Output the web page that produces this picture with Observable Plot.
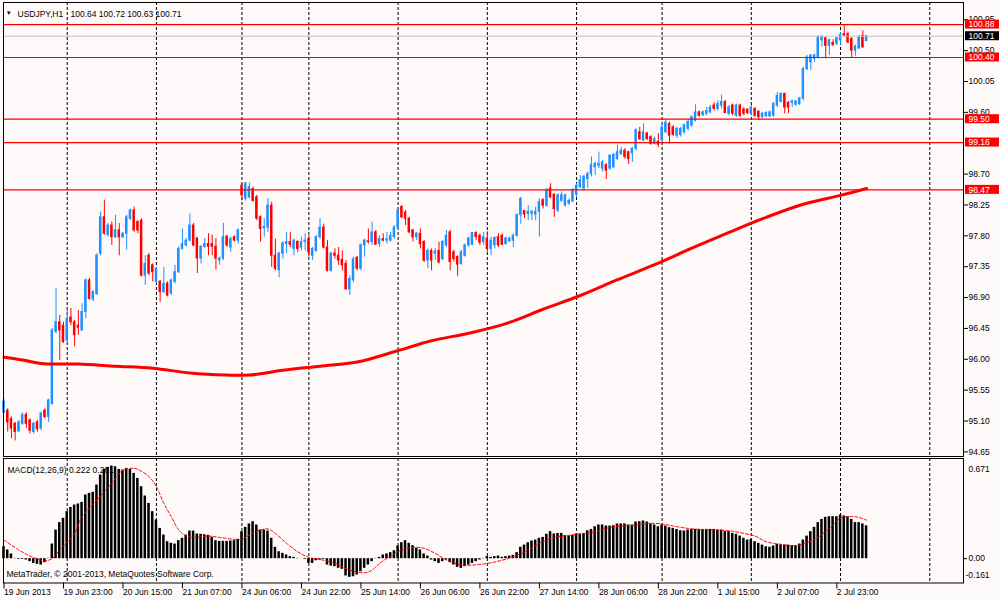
<!DOCTYPE html>
<html><head><meta charset="utf-8">
<script src="https://cdn.jsdelivr.net/npm/d3@7"></script>
<script src="https://cdn.jsdelivr.net/npm/@observablehq/plot@0.6"></script>
<style>
body{margin:0;background:#fffafa;}
#chart{position:relative;width:1000px;height:600px;background:#fffafa;overflow:hidden;}
#main,#macd{position:absolute;left:0;}
#main{top:0px}
#macd{top:457px}
svg{display:block}
</style></head><body><div id="chart"><div id="main"></div><div id="macd"></div></div>
<script>
const opens=[95.22,95.25,95.13,95.06,94.95,95.06,95.19,95.11,94.94,95.08,
94.99,95.25,95.16,95.35,96.40,96.54,96.49,96.27,96.61,96.54,
96.49,96.42,96.69,97.15,96.87,96.95,97.54,98.07,97.81,97.95,
97.78,97.88,97.78,97.83,98.05,98.17,98.00,98.02,97.22,97.51,
97.37,97.13,97.13,96.98,97.10,96.96,97.13,97.27,97.61,97.66,
97.73,97.95,97.76,97.47,97.64,97.68,97.68,97.64,97.44,97.47,
97.79,97.63,97.78,97.73,98.53,98.34,98.36,98.48,98.36,98.07,
97.91,97.92,98.24,97.51,97.30,97.54,97.68,97.71,97.61,97.71,
97.63,97.71,97.75,97.51,97.58,97.78,97.92,97.63,97.29,97.54,
97.51,97.45,97.39,97.02,97.15,97.48,97.32,97.66,97.72,97.71,
97.85,97.68,97.75,97.73,97.73,97.78,97.92,98.22,98.14,98.05,
97.88,97.78,97.83,97.71,97.44,97.58,97.54,97.58,97.46,97.66,
97.85,97.56,97.49,97.39,97.51,97.66,97.67,97.84,97.80,97.71,
97.76,97.61,97.66,97.78,97.80,97.68,97.72,97.73,97.80,98.10,
98.16,98.12,98.12,98.11,98.15,98.32,98.24,98.49,98.40,98.17,
98.31,98.24,98.27,98.30,98.40,98.51,98.49,98.63,98.70,98.80,
98.82,98.78,98.83,98.78,98.80,98.92,98.99,99.04,99.02,99.00,
99.07,99.31,99.19,99.29,99.24,99.14,99.17,99.19,99.31,99.43,
99.38,99.26,99.27,99.31,99.36,99.41,99.48,99.60,99.56,99.58,
99.60,99.70,99.65,99.70,99.75,99.58,99.70,99.55,99.70,99.64,
99.64,99.58,99.65,99.61,99.53,99.54,99.54,99.55,99.70,99.75,
99.87,99.74,99.74,99.71,99.72,99.80,100.23,100.33,100.38,100.40,
100.65,100.68,100.57,100.61,100.60,100.65,100.74,100.74,100.67,100.50,
100.53,100.71,100.64];
const highs=[95.42,95.28,95.16,95.08,95.11,95.22,95.22,95.13,95.08,95.11,
95.23,95.28,95.42,96.45,97.03,96.64,96.54,96.74,96.74,96.57,
96.71,96.81,97.17,97.18,97.00,97.54,98.15,98.32,97.98,98.00,
98.10,97.98,97.85,98.10,98.19,98.22,98.02,98.05,97.51,97.54,
97.39,97.34,97.15,97.34,97.13,97.17,97.37,97.64,97.90,97.76,
98.12,97.98,97.78,97.66,97.76,97.83,97.81,97.76,97.49,97.98,
97.80,97.78,97.80,97.90,98.56,98.58,98.57,98.51,98.39,98.09,
98.05,98.34,98.29,97.75,97.56,97.71,97.85,97.85,97.75,97.73,
97.78,97.83,97.80,97.63,97.80,98.05,97.97,97.73,97.56,97.61,
97.63,97.58,97.44,97.22,97.49,97.50,97.68,97.75,97.90,98.00,
97.88,97.80,97.83,97.85,97.85,97.95,98.18,98.24,98.17,98.07,
97.89,97.85,97.90,97.73,97.61,97.61,97.61,97.71,97.73,97.88,
97.88,97.59,97.51,97.59,97.68,97.78,97.85,97.86,97.83,97.85,
97.86,97.78,97.78,97.83,97.83,97.78,97.78,97.83,98.12,98.36,
98.17,98.24,98.17,98.22,98.34,98.34,98.49,98.56,98.41,98.41,
98.44,98.41,98.34,98.49,98.56,98.68,98.68,98.73,98.95,98.87,
99.02,98.90,98.85,98.98,99.00,99.12,99.09,99.07,99.03,99.09,
99.36,99.38,99.43,99.31,99.26,99.24,99.29,99.43,99.50,99.46,
99.41,99.38,99.38,99.43,99.50,99.55,99.71,99.62,99.62,99.67,
99.70,99.74,99.77,99.85,99.77,99.70,99.72,99.72,99.72,99.67,
99.65,99.70,99.67,99.62,99.60,99.61,99.62,99.75,99.89,99.88,
99.88,99.76,99.78,99.77,99.82,100.26,100.43,100.44,100.45,100.72,
100.72,100.69,100.67,100.66,100.69,100.76,100.86,100.77,100.69,100.58,
100.72,100.79,100.72];
const lows=[95.21,94.94,94.84,94.81,94.93,95.04,94.99,94.91,94.91,94.94,
94.96,95.13,95.08,95.33,96.37,95.98,96.23,96.25,96.49,96.18,
96.35,96.41,96.59,96.86,96.84,96.93,97.51,97.81,97.78,97.66,
97.76,97.51,97.76,97.59,98.02,97.85,97.83,97.20,97.08,97.22,
97.13,97.10,96.83,96.96,96.91,96.93,97.10,97.25,97.59,97.64,
97.71,97.64,97.25,97.39,97.61,97.51,97.51,97.30,97.37,97.44,
97.63,97.56,97.71,97.68,98.31,98.31,98.34,98.29,98.02,97.71,
97.78,97.85,97.34,97.29,97.19,97.46,97.54,97.63,97.51,97.56,
97.58,97.58,97.49,97.44,97.56,97.75,97.61,97.27,97.27,97.46,
97.37,97.29,97.01,96.93,97.12,97.29,97.29,97.49,97.68,97.66,
97.66,97.63,97.71,97.68,97.71,97.75,97.90,98.05,97.95,97.83,
97.71,97.73,97.61,97.41,97.32,97.29,97.44,97.39,97.44,97.63,
97.29,97.42,97.21,97.37,97.49,97.63,97.66,97.73,97.66,97.66,
97.56,97.51,97.61,97.63,97.66,97.66,97.70,97.63,97.78,97.97,
98.05,98.02,98.02,98.02,97.78,98.19,98.22,98.34,98.07,98.14,
98.29,98.22,98.24,98.29,98.36,98.49,98.45,98.49,98.66,98.68,
98.78,98.73,98.62,98.75,98.78,98.90,98.97,98.92,98.84,98.87,
99.04,99.19,99.17,99.19,99.12,99.12,99.09,99.14,99.29,99.14,
99.25,99.22,99.24,99.28,99.33,99.38,99.46,99.53,99.54,99.55,
99.58,99.62,99.62,99.65,99.58,99.55,99.55,99.53,99.53,99.55,
99.57,99.55,99.53,99.48,99.51,99.53,99.53,99.53,99.67,99.74,
99.58,99.58,99.67,99.69,99.70,99.77,100.21,100.21,100.33,100.38,
100.55,100.38,100.43,100.56,100.57,100.58,100.71,100.60,100.40,100.42,
100.52,100.53,100.63];
const closes=[95.38,95.08,94.99,94.94,95.08,95.19,95.06,94.96,95.06,94.98,
95.21,95.16,95.40,96.42,96.54,96.42,96.25,96.59,96.54,96.35,
96.46,96.69,97.15,96.88,96.98,97.51,98.07,97.83,97.95,97.78,
97.88,97.78,97.83,98.07,98.17,97.88,97.88,97.22,97.39,97.25,
97.27,97.32,96.98,97.10,96.93,97.15,97.27,97.61,97.68,97.73,
97.95,97.66,97.47,97.64,97.68,97.64,97.64,97.47,97.47,97.78,
97.66,97.75,97.73,97.88,98.39,98.56,98.51,98.31,98.05,97.90,
97.93,98.24,97.51,97.32,97.54,97.69,97.71,97.67,97.73,97.61,
97.71,97.73,97.56,97.61,97.78,97.92,97.63,97.29,97.54,97.51,
97.44,97.37,97.02,97.17,97.46,97.32,97.66,97.73,97.71,97.85,
97.67,97.75,97.73,97.75,97.80,97.92,98.17,98.07,98.05,97.85,
97.78,97.83,97.68,97.44,97.58,97.44,97.57,97.41,97.71,97.80,
97.42,97.46,97.38,97.56,97.66,97.76,97.84,97.78,97.70,97.78,
97.61,97.73,97.77,97.66,97.67,97.76,97.76,97.80,98.10,98.34,
98.11,98.15,98.15,98.15,98.29,98.24,98.46,98.36,98.19,98.39,
98.39,98.39,98.31,98.46,98.53,98.61,98.66,98.70,98.83,98.85,
98.85,98.87,98.75,98.97,98.98,99.02,99.04,98.95,98.92,99.07,
99.34,99.21,99.31,99.21,99.14,99.21,99.13,99.38,99.45,99.26,
99.27,99.36,99.36,99.41,99.46,99.53,99.60,99.55,99.60,99.62,
99.67,99.65,99.72,99.75,99.59,99.67,99.58,99.70,99.55,99.58,
99.59,99.67,99.55,99.53,99.58,99.59,99.60,99.72,99.84,99.87,
99.67,99.67,99.76,99.76,99.80,100.23,100.40,100.43,100.43,100.69,
100.69,100.57,100.65,100.58,100.68,100.73,100.72,100.62,100.50,100.56,
100.69,100.55,100.71];

const maIdx=[0,5,10,15,20,30,40,50,60,66,75,85,95,105,115,125,135,145,155,165,175,185,195,205,215,225,232];
const maVal=[96.03,95.99,95.94,95.93,95.93,95.90,95.87,95.80,95.77,95.77,95.84,95.90,95.96,96.11,96.27,96.38,96.52,96.73,96.93,97.16,97.38,97.62,97.85,98.07,98.26,98.39,98.49];

const macdHist=[0.081,0.059,0.032,0.002,-0.005,-0.005,-0.009,-0.020,-0.032,-0.038,
-0.043,-0.027,0.002,0.099,0.194,0.244,0.273,0.318,0.347,0.363,
0.370,0.381,0.431,0.442,0.449,0.498,0.566,0.604,0.618,0.627,
0.622,0.604,0.600,0.611,0.604,0.577,0.543,0.487,0.424,0.374,
0.318,0.262,0.205,0.160,0.115,0.104,0.099,0.122,0.138,0.160,
0.187,0.187,0.167,0.165,0.162,0.158,0.144,0.122,0.117,0.117,
0.117,0.120,0.122,0.131,0.183,0.212,0.235,0.250,0.228,0.194,
0.194,0.187,0.138,0.077,0.047,0.036,0.025,0.014,0.009,0.002,
0.000,-0.005,-0.032,-0.032,-0.014,-0.009,-0.005,-0.043,-0.050,-0.054,
-0.065,-0.072,-0.117,-0.126,-0.122,-0.110,-0.088,-0.065,-0.043,-0.020,
0.002,0.009,0.025,0.032,0.041,0.054,0.086,0.108,0.122,0.104,
0.088,0.070,0.059,0.032,0.018,-0.009,-0.020,-0.032,-0.020,-0.009,
-0.027,-0.043,-0.059,-0.065,-0.054,-0.043,-0.032,-0.020,-0.009,0.002,
0.014,0.009,0.014,0.018,0.009,0.014,0.018,0.023,0.041,0.077,
0.092,0.108,0.120,0.126,0.138,0.144,0.165,0.183,0.167,0.171,
0.171,0.156,0.153,0.158,0.167,0.167,0.171,0.189,0.198,0.216,
0.228,0.228,0.221,0.221,0.223,0.235,0.235,0.235,0.228,0.228,
0.248,0.250,0.255,0.248,0.235,0.228,0.216,0.228,0.221,0.210,
0.205,0.198,0.189,0.187,0.194,0.198,0.198,0.198,0.198,0.198,
0.198,0.198,0.194,0.194,0.183,0.183,0.171,0.165,0.153,0.138,
0.126,0.131,0.115,0.104,0.092,0.081,0.077,0.086,0.097,0.092,
0.092,0.092,0.088,0.088,0.099,0.126,0.153,0.183,0.212,0.244,
0.266,0.280,0.284,0.284,0.284,0.295,0.289,0.284,0.266,0.244,
0.244,0.235,0.222];

const sigIdx=[0,4,7,11,13,15,19,21,25,29,32,35,36,39,41,43,45,47,49,51,55,58,62,64,66,69,71,73,76,79,82,85,89,93,97,99,101,104,107,110,113,116,119,123,126,130,134,137,141,144,148,152,155,159,162,166,170,173,177,180,184,187,191,195,198,202,205,209,213,218,222,225,229,232];
const sigVal=[0.126,0.059,0.018,-0.014,0.002,0.059,0.171,0.284,0.397,0.510,0.600,0.611,0.604,0.555,0.487,0.374,0.284,0.194,0.153,0.144,0.153,0.144,0.131,0.131,0.160,0.194,0.201,0.171,0.104,0.047,0.009,-0.005,-0.032,-0.077,-0.095,-0.077,-0.032,0.018,0.059,0.077,0.070,0.036,-0.009,-0.043,-0.043,-0.032,-0.010,0.014,0.059,0.104,0.144,0.158,0.167,0.183,0.205,0.221,0.228,0.239,0.235,0.221,0.205,0.198,0.194,0.189,0.176,0.153,0.115,0.097,0.088,0.131,0.205,0.273,0.284,0.261];

const levels=[100.88,100.40,99.50,99.16,98.47];
const bidPrice=100.71;
const priceTicks=[94.65,95.10,95.55,96.00,96.45,96.90,97.35,97.80,98.25,98.70,99.60,100.05,100.50,100.95];
const gridIdx=[17,41,64,82,106,130,154,177,201,225,249];
const timeIdx=[0,16,32,48,64,80,96,112,128,144,160,176,192,208,224];
const timeLabels=["19 Jun 2013","19 Jun 23:00","20 Jun 15:00","21 Jun 07:00","24 Jun 06:00","24 Jun 22:00","25 Jun 14:00","26 Jun 06:00","26 Jun 22:00","27 Jun 14:00","28 Jun 06:00","28 Jun 22:00","1 Jul 15:00","2 Jul 07:00","2 Jul 23:00"];
const headerSymbol="USDJPY,H1";
const headerValues="100.64 100.72 100.63 100.71";
const macdTitle="MACD(12,26,9) 0.222 0.261";
const copyright="MetaTrader, \u00a9 2001-2013, MetaQuotes Software Corp.";
const macdTop="0.671", macdZero="0.00", macdBottom="-0.161";

const BLUE="#1e90ff", RED="#ff0000";
const FONT="'Liberation Sans', Arial, sans-serif";
const xDom=[-0.134, 258.07];
const pxPerBar=3.718, pxPerPrice=68.6;
const xR=xDom[1];

const bars=closes.map((c,i)=>({i,o:opens[i],h:highs[i],l:lows[i],c}));
const ma=maIdx.map((i,k)=>({i,v:maVal[k]}));
const hist=macdHist.map((v,i)=>({i,v}));
const sig=sigIdx.map((i,k)=>({i,v:sigVal[k]}));
const boxes=[...levels.map(p=>({p,fill:RED})),{p:bidPrice,fill:"#000"}];

const style={background:"transparent",fontFamily:FONT,fontSize:"8.5px",color:"#000",overflow:"visible"};

const main=Plot.plot({
  width:1000,height:457,marginLeft:3,marginRight:37,marginTop:2,marginBottom:1,
  x:{domain:xDom,axis:null,label:null},
  y:{domain:[94.583,101.2016],axis:null,label:null},
  color:{type:"identity"},
  style,
  marks:[
    Plot.ruleX(gridIdx,{stroke:"#000",strokeDasharray:"3,2"}),
    Plot.ruleX(bars,{x:"i",y1:"l",y2:"h",stroke:d=>d.c>=d.o?BLUE:RED,strokeWidth:1}),
    Plot.rect(bars,{x1:d=>d.i-0.33,x2:d=>d.i+0.33,y1:"o",y2:"c",fill:d=>d.c>=d.o?BLUE:RED,insetTop:-0.5,insetBottom:-0.5}),
    Plot.ruleY([bidPrice],{stroke:"#c0c0c0"}),
    Plot.ruleY(levels,{stroke:RED,strokeWidth:1.2}),
    Plot.line(ma,{x:"i",y:"v",stroke:RED,strokeWidth:3,curve:"catmull-rom"}),
    Plot.frame({stroke:"#000"}),
    Plot.axisY(priceTicks,{anchor:"right",label:null,tickFormat:d=>d.toFixed(2),tickSize:4,tickPadding:1,fill:"#000"}),
    Plot.rect(boxes,{x1:()=>xR+2/pxPerBar,x2:()=>xR+36/pxPerBar,y1:d=>d.p-4.5/pxPerPrice,y2:d=>d.p+4.5/pxPerPrice,fill:"fill"}),
    Plot.text(boxes,{x:()=>xR,y:"p",dx:5,textAnchor:"start",fill:"#fff",text:d=>d.p.toFixed(2)}),
    Plot.text(["\u25bc"],{frameAnchor:"top-left",dx:5.3,dy:8,fontSize:6,textAnchor:"middle",fill:"#000"}),
    Plot.text([headerSymbol],{frameAnchor:"top-left",dx:14,dy:8,textAnchor:"start",fill:"#000"}),
    Plot.text([headerValues],{frameAnchor:"top-left",dx:67,dy:8,textAnchor:"start",fill:"#000"})
  ]
});
document.getElementById("main").appendChild(main);

const macd=Plot.plot({
  width:1000,height:143,marginLeft:3,marginRight:37,marginTop:1,marginBottom:17.5,
  x:{domain:xDom,axis:null,label:null},
  y:{domain:[-0.1644,0.6778],axis:null,label:null},
  style,
  marks:[
    Plot.ruleX(gridIdx,{stroke:"#000",strokeDasharray:"3,2"}),
    Plot.rect(hist,{x1:d=>d.i-0.34,x2:d=>d.i+0.34,y1:0,y2:"v",fill:"#000"}),
    Plot.line(sig,{x:"i",y:"v",stroke:RED,strokeWidth:1,strokeDasharray:"3,2",curve:"catmull-rom"}),
    Plot.frame({stroke:"#000"}),
    Plot.axisX(timeIdx,{anchor:"bottom",label:null,tickFormat:d=>timeLabels[timeIdx.indexOf(d)],tickSize:6,tickPadding:0,textAnchor:"start",fill:"#000"}),
    Plot.axisY([0],{anchor:"right",label:null,tickSize:3,tickFormat:()=>""}),
    Plot.text([macdTop],{frameAnchor:"top-right",dx:5,dy:7,textAnchor:"start",fill:"#000"}),
    Plot.text([macdZero],{x:xR,y:0,dx:5,textAnchor:"start",fill:"#000"}),
    Plot.text([macdBottom],{frameAnchor:"bottom-right",dx:2,dy:-5,textAnchor:"start",fill:"#000"}),
    Plot.text([macdTitle],{frameAnchor:"top-left",dx:4,dy:8,textAnchor:"start",fill:"#000"}),
    Plot.text([copyright],{frameAnchor:"bottom-left",dx:3,dy:-6,textAnchor:"start",fill:"#000"})
  ]
});
document.getElementById("macd").appendChild(macd);
</script></body></html>
